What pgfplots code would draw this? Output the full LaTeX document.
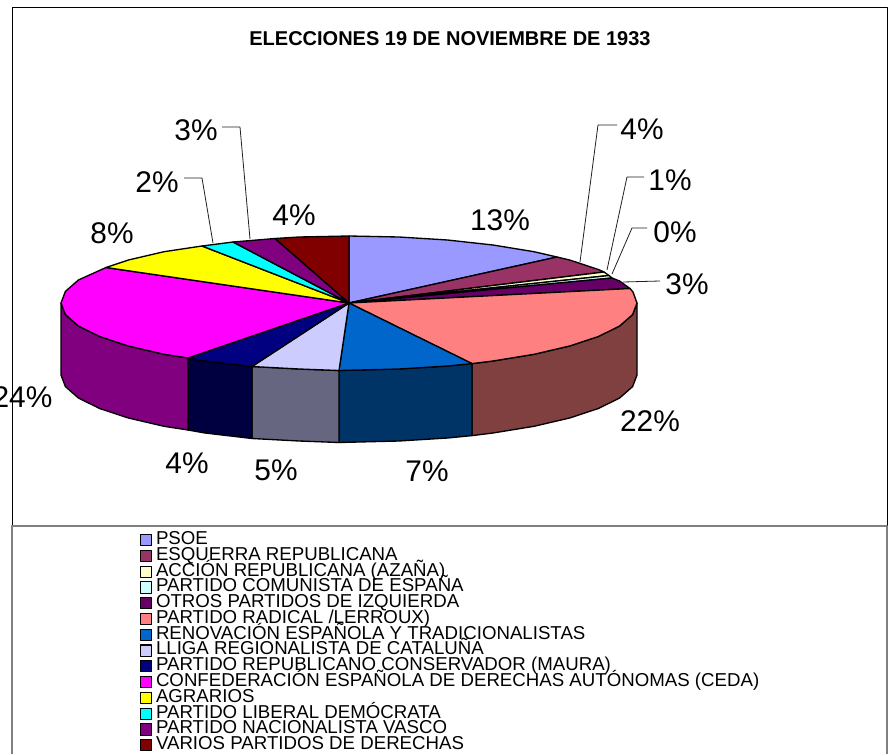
\documentclass[border=0pt]{standalone}
\usepackage{fontspec}
\setmainfont{Liberation Sans}
\usepackage{pgfplots}
\pgfplotsset{compat=1.18}
\definecolor{c1}{HTML}{9999FF}\definecolor{c2}{HTML}{993366}\definecolor{c3}{HTML}{FFFFCC}
\definecolor{c4}{HTML}{CCFFFF}\definecolor{c5}{HTML}{660066}\definecolor{c6}{HTML}{FF8080}
\definecolor{c7}{HTML}{0066CC}\definecolor{c8}{HTML}{CCCCFF}\definecolor{c9}{HTML}{000080}
\definecolor{c10}{HTML}{FF00FF}\definecolor{c11}{HTML}{FFFF00}\definecolor{c12}{HTML}{00FFFF}
\definecolor{c13}{HTML}{800080}\definecolor{c14}{HTML}{800000}
\definecolor{s6}{HTML}{804040}\definecolor{s7}{HTML}{003366}\definecolor{s8}{HTML}{666680}
\definecolor{s9}{HTML}{000040}\definecolor{s10}{HTML}{800080}
\definecolor{lead}{HTML}{202020}
\newcommand{\pct}[1]{\fontsize{22.4}{22.4}\selectfont #1\%}
\begin{document}
\begin{tikzpicture}
\useasboundingbox (0,0) rectangle (667.5pt,565.5pt);
\begin{axis}[
  scale only axis, width=667.5pt, height=565.5pt,
  xmin=0, xmax=890, ymin=0, ymax=754, y dir=reverse,
  hide axis, clip=false,
  every axis plot/.append style={line width=1pt, line join=round},
  legend cell align=left,
  legend image code/.code={\draw[#1,draw=black,line width=0.8pt] (0pt,-4.2pt) rectangle (8.2pt,4.2pt);},
  legend style={at={(axis cs:140,532)}, anchor=north west, draw=none, fill=none, inner sep=0pt,
    row sep=0pt, font=\fontsize{14}{14}\selectfont,
    nodes={inner sep=0pt, text height=9.2pt, text depth=2.63pt},
    /tikz/every odd column/.append style={column sep=2.8pt}},
]
% frame
\addplot[forget plot, black, line width=0.6pt] coordinates {(12,526)(12,7)(887,7)(887,526)};
\addplot[forget plot, gray, line width=0.8pt] coordinates {(12,754)(12,526)(887,526)(887,754)};
% side walls
\addplot[forget plot, fill=s6, draw=black] coordinates {(637,303)(632.6,314.6)(619.6,326)(598.4,336.5)(569.6,346)(534,354.3)(493,361)(472,363.6)(472,435.6)(493,433)(534,426.3)(569.6,418)(598.4,408.5)(619.6,398)(632.6,386.6)(637,375)} -- cycle;
\addplot[forget plot, fill=s7, draw=black] coordinates {(472,363.6)(447.5,366)(399,369)(339,370.5)(339,442.5)(399,441)(447.5,438)(472,435.6)} -- cycle;
\addplot[forget plot, fill=s8, draw=black] coordinates {(339,370.5)(299,369)(252,366.5)(252,438.5)(299,441)(339,442.5)} -- cycle;
\addplot[forget plot, fill=s9, draw=black] coordinates {(252,366.5)(205,361)(188,358)(188,430)(205,433)(252,438.5)} -- cycle;
\addplot[forget plot, fill=s10, draw=black] coordinates {(188,358)(164,354.3)(128.4,346)(99.6,336.5)(78.4,326)(65.4,314.6)(61,303)(61,375)(65.4,386.6)(78.4,398)(99.6,408.5)(128.4,418)(164,426.3)(188,430)} -- cycle;
% top face sectors
\addplot[fill=c1, draw=black] coordinates {(349,303)(349,236)(399,237)(447.5,240)(493,245)(534,251.7)(557,257)} -- cycle;
\addlegendentry{PSOE}
\addplot[fill=c2, draw=black] coordinates {(349,303)(557,257)(569.6,260)(598.4,269.5)(604,272)} -- cycle;
\addlegendentry{ESQUERRA REPUBLICANA}
\addplot[fill=c3, draw=black] coordinates {(349,303)(604,272)(609,275.5)} -- cycle;
\addlegendentry{ACCIÓN REPUBLICANA (AZAÑA)}
\addplot[fill=c4, draw=black] coordinates {(349,303)(609,275.5)(612,278)} -- cycle;
\addlegendentry{PARTIDO COMUNISTA DE ESPAÑA}
\addplot[fill=c5, draw=black] coordinates {(349,303)(612,278)(619.6,281)(630,288.5)} -- cycle;
\addlegendentry{OTROS PARTIDOS DE IZQUIERDA}
\addplot[fill=c6, draw=black] coordinates {(349,303)(630,288.5)(633,292)(637,303)(632.6,314.6)(619.6,326)(598.4,336.5)(569.6,346)(534,354.3)(493,361)(472,363.6)} -- cycle;
\addlegendentry{PARTIDO RADICAL /LERROUX)}
\addplot[fill=c7, draw=black] coordinates {(349,303)(472,363.6)(447.5,366)(399,369)(339,370.5)} -- cycle;
\addlegendentry{RENOVACIÓN ESPAÑOLA Y TRADICIONALISTAS}
\addplot[fill=c8, draw=black] coordinates {(349,303)(339,370.5)(299,369)(252,366.5)} -- cycle;
\addlegendentry{LLIGA REGIONALISTA DE CATALUÑA}
\addplot[fill=c9, draw=black] coordinates {(349,303)(252,366.5)(205,361)(188,358)} -- cycle;
\addlegendentry{PARTIDO REPUBLICANO CONSERVADOR (MAURA)}
\addplot[fill=c10, draw=black] coordinates {(349,303)(188,358)(164,354.3)(128.4,346)(99.6,336.5)(78.4,326)(65.4,314.6)(61,303)(65.4,291.4)(78.4,280)(106,267.5)} -- cycle;
\addlegendentry{CONFEDERACIÓN ESPAÑOLA DE DERECHAS AUTÓNOMAS (CEDA)}
\addplot[fill=c11, draw=black] coordinates {(349,303)(106,267.5)(128.4,260)(164,251.7)(202,246)} -- cycle;
\addlegendentry{AGRARIOS}
\addplot[fill=c12, draw=black] coordinates {(349,303)(202,246)(233,242)} -- cycle;
\addlegendentry{PARTIDO LIBERAL DEMÓCRATA}
\addplot[fill=c13, draw=black] coordinates {(349,303)(233,242)(275,238.5)} -- cycle;
\addlegendentry{PARTIDO NACIONALISTA VASCO}
\addplot[fill=c14, draw=black] coordinates {(349,303)(275,238.5)(299,237)(349,236)} -- cycle;
\addlegendentry{VARIOS PARTIDOS DE DERECHAS}
% leader lines
\addplot[forget plot, lead, line width=0.6pt] coordinates {(222,127)(240,127)(250,239)};
\addplot[forget plot, lead, line width=0.6pt] coordinates {(184,178)(202,178)(213,243)};
\addplot[forget plot, lead, line width=0.6pt] coordinates {(617,125)(598,125)(580,262)};
\addplot[forget plot, lead, line width=0.6pt] coordinates {(644,177)(627,177)(607,270)};
\addplot[forget plot, lead, line width=0.6pt] coordinates {(647,228)(632,228)(612,274)};
\addplot[forget plot, lead, line width=0.6pt] coordinates {(660,281)(623,282)};
% labels
\node[font=\fontsize{15}{15}\selectfont\bfseries] at (axis cs:450,39) {ELECCIONES 19 DE NOVIEMBRE DE 1933};
\node at (axis cs:500,220) {\pct{13}};
\node at (axis cs:642,129) {\pct{4}};
\node at (axis cs:670,180) {\pct{1}};
\node at (axis cs:675,232) {\pct{0}};
\node at (axis cs:687,284) {\pct{3}};
\node at (axis cs:650,421) {\pct{22}};
\node at (axis cs:427,471) {\pct{7}};
\node at (axis cs:276,470) {\pct{5}};
\node at (axis cs:187,463) {\pct{4}};
\node at (axis cs:22.5,397) {\pct{24}};
\node at (axis cs:112,233) {\pct{8}};
\node at (axis cs:157,182) {\pct{2}};
\node at (axis cs:196,130) {\pct{3}};
\node at (axis cs:294,215) {\pct{4}};
\end{axis}
\end{tikzpicture}
\end{document}
